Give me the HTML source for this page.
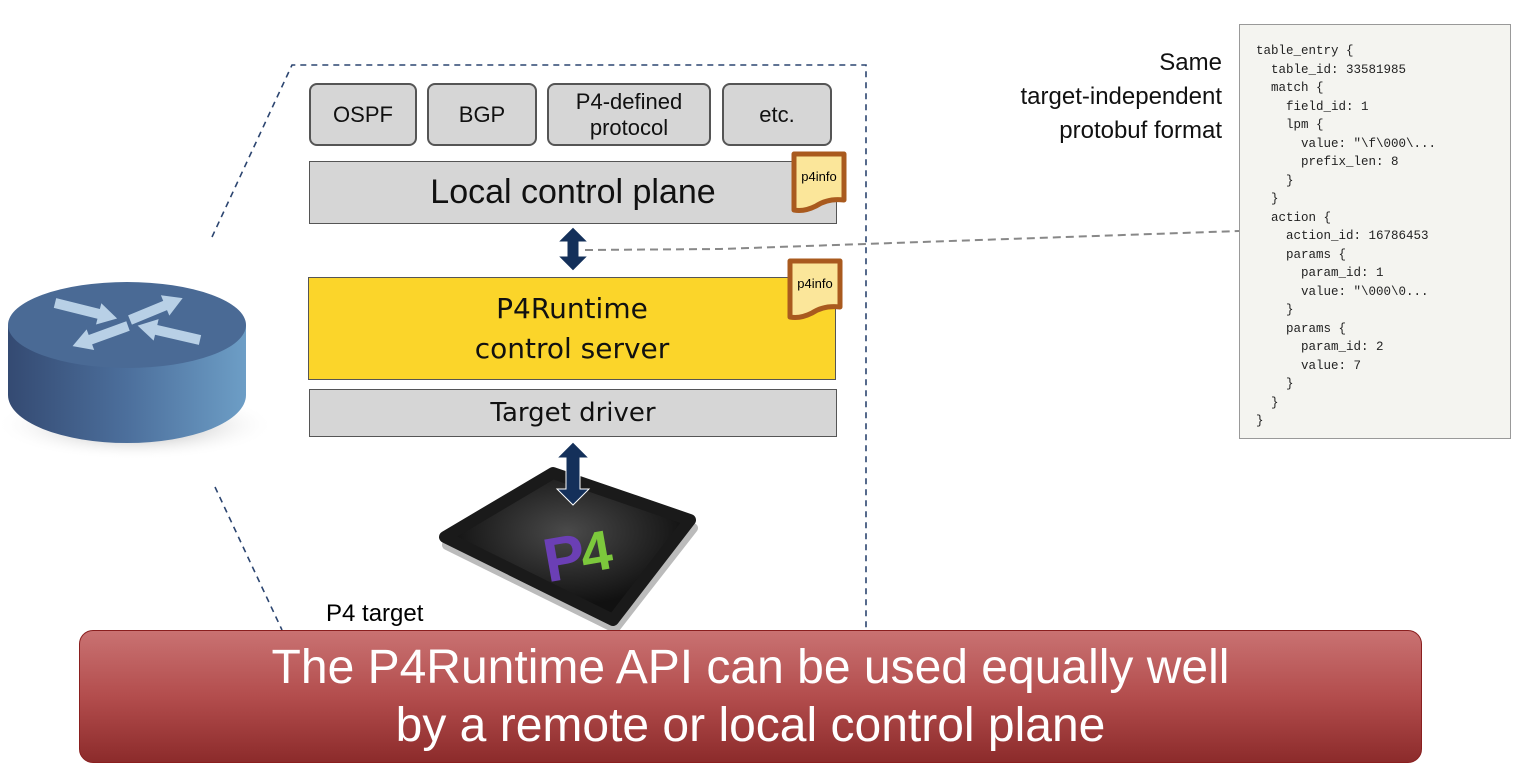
<!DOCTYPE html>
<html><head><style>
body{margin:0;width:1522px;height:772px;background:#fff;position:relative;overflow:hidden;font-family:"Liberation Sans",sans-serif}
.b{position:absolute;background:#d6d6d6;border:2px solid #555;box-sizing:border-box;display:flex;align-items:center;justify-content:center;text-align:center;color:#111}
.r{border-radius:8px;font-size:22px;line-height:26px}
pre{position:absolute;left:1239px;top:24px;width:272px;height:415px;box-sizing:border-box;margin:0;border:1.5px solid #999;background:#f4f4f0;font-family:"Liberation Mono",monospace;font-size:12.5px;line-height:18.5px;padding:17px 0 0 16px;color:#222}
</style></head><body>
<svg width="1522" height="772" style="position:absolute;left:0;top:0">
<defs>
<linearGradient id="cyl" x1="0" x2="1"><stop offset="0" stop-color="#344a72"/><stop offset="0.5" stop-color="#4c6f9c"/><stop offset="1" stop-color="#6d9ec6"/></linearGradient>
<radialGradient id="sh"><stop offset="0" stop-color="#888"/><stop offset="1" stop-color="#fff" stop-opacity="0"/></radialGradient>
<radialGradient id="chip" cx="0.5" cy="0.4"><stop offset="0" stop-color="#4a4a4a"/><stop offset="1" stop-color="#111"/></radialGradient>
</defs>
<g stroke="#2c4570" stroke-width="1.6" stroke-dasharray="6,5" fill="none">
<path d="M212 237 L292 65 L866 65 L866 630"/>
<path d="M215 487 L282 630"/>
</g>
<path d="M585 250 L720 249 L1239 231" stroke="#888" stroke-width="2" stroke-dasharray="8,5" fill="none"/>
<ellipse cx="135" cy="425" rx="140" ry="35" fill="url(#sh)"/>
<path d="M8 325 L8 395 A119 48 0 0 0 246 395 L246 325 Z" fill="url(#cyl)"/>
<ellipse cx="127" cy="325" rx="119" ry="43" fill="#4a6a95"/>
<g fill="#b8d0e6">
<polygon transform="translate(55,303) rotate(14)" points="0,-5 45,-5 45,-11 64,0 45,11 45,5 0,5"/>
<polygon transform="translate(130,320) rotate(-22.5)" points="0,-5 38,-5 38,-11 57,0 38,11 38,5 0,5"/>
<polygon transform="translate(128,326) rotate(160)" points="0,-5 40,-5 40,-11 59,0 40,11 40,5 0,5"/>
<polygon transform="translate(200,340) rotate(193)" points="0,-5 45,-5 45,-11 64,0 45,11 45,5 0,5"/>
</g>
<polygon points="447,545 555,481 693,528 615,628" fill="#aaa" stroke="#bbb" stroke-width="10" stroke-linejoin="round"/>
<polygon points="445,537 553,473 690,520 613,620" fill="url(#chip)" stroke="#1a1a1a" stroke-width="12" stroke-linejoin="round"/>
<text x="542" y="578" font-family="Liberation Sans" font-weight="bold" font-size="62" fill="#6b3fb5" transform="rotate(-10 570 548)">P</text>
<text x="580" y="570" font-family="Liberation Sans" font-weight="bold" font-size="56" fill="#7cc83c" transform="rotate(-10 600 548)">4</text>
<g fill="#14305a" stroke="#fff" stroke-width="1">
<polygon points="573,227 588,242 579,242 579,256 588,256 573,271 558,256 567,256 567,242 558,242"/>
<polygon points="573,442 589,458 580,458 580,489 589,489 573,505 557,489 566,489 566,458 557,458"/>
</g>
</svg>
<div class="b r" style="left:309px;top:83px;width:108px;height:63px">OSPF</div>
<div class="b r" style="left:427px;top:83px;width:110px;height:63px">BGP</div>
<div class="b r" style="left:547px;top:83px;width:164px;height:63px">P4-defined<br>protocol</div>
<div class="b r" style="left:722px;top:83px;width:110px;height:63px">etc.</div>
<div class="b" style="left:309px;top:161px;width:528px;height:63px;font-size:34px;border-width:1.5px">Local control plane</div>
<div class="b" style="left:308px;top:277px;width:528px;height:103px;font-size:28px;line-height:40px;background:#fbd52a;border-width:1.5px;font-family:'DejaVu Sans',sans-serif">P4Runtime<br>control server</div>
<div class="b" style="left:309px;top:389px;width:528px;height:48px;font-size:26px;border-width:1.5px;font-family:'DejaVu Sans',sans-serif">Target driver</div>
<svg width="70" height="70" style="position:absolute;left:788px;top:148px"><path d="M6 6 H56 V52 Q40 50 28 58 Q16 64 6 62 Z" fill="#fbe69a" stroke="#a95a1e" stroke-width="5" stroke-linejoin="round"/><text x="31" y="33" text-anchor="middle" font-size="13" font-family="Liberation Sans">p4info</text></svg>
<svg width="70" height="70" style="position:absolute;left:784px;top:255px"><path d="M6 6 H56 V52 Q40 50 28 58 Q16 64 6 62 Z" fill="#fbe69a" stroke="#a95a1e" stroke-width="5" stroke-linejoin="round"/><text x="31" y="33" text-anchor="middle" font-size="13" font-family="Liberation Sans">p4info</text></svg>
<div style="position:absolute;right:300px;top:46px;text-align:right;font-size:24px;line-height:34px;color:#111">Same<br>target-independent<br>protobuf format</div>
<pre>table_entry {
  table_id: 33581985
  match {
    field_id: 1
    lpm {
      value: "\f\000\...
      prefix_len: 8
    }
  }
  action {
    action_id: 16786453
    params {
      param_id: 1
      value: "\000\0...
    }
    params {
      param_id: 2
      value: 7
    }
  }
}</pre>
<div style="position:absolute;left:326px;top:600px;font-size:24px">P4 target</div>
<div style="position:absolute;left:79px;top:630px;width:1343px;height:133px;box-sizing:border-box;border:1.5px solid #8a1f1f;border-radius:14px;background:linear-gradient(#c97272,#b34d4d 50%,#8c2b2b);color:#fff;font-size:48px;line-height:58px;text-align:center;padding-top:8px">The P4Runtime API can be used equally well<br>by a remote or local control plane</div>
</body></html>
